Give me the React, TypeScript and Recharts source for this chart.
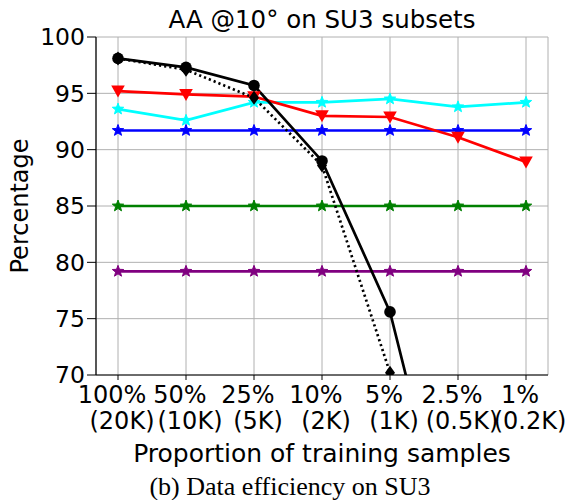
import React from 'react';
import { LineChart, Line, XAxis, YAxis, CartesianGrid } from 'recharts';

const categories = ['100%', '50%', '25%', '10%', '5%', '2.5%', '1%'];
const sampleCounts = ['(20K)', '(10K)', '(5K)', '(2K)', '(1K)', '(0.5K)', '(0.2K)'];
const solidBlack = [98.1, 97.3, 95.7, 89.0, 75.6, 51.5, 45.0];
const dottedBlack = [98.1, 97.1, 94.6, 88.6, 70.2, 45.0, 38.0];
const red = [95.2, 94.9, 94.7, 93.0, 92.9, 91.1, 88.9];
const cyan = [93.6, 92.6, 94.2, 94.2, 94.5, 93.8, 94.2];
const blue = [91.7, 91.7, 91.7, 91.7, 91.7, 91.7, 91.7];
const green = [85.0, 85.0, 85.0, 85.0, 85.0, 85.0, 85.0];
const purple = [79.2, 79.2, 79.2, 79.2, 79.2, 79.2, 79.2];
const yTicks = [70, 75, 80, 85, 90, 95, 100];

const data = categories.map((c, i) => ({
  name: c,
  solid: solidBlack[i],
  dotted: dottedBlack[i],
  red: red[i],
  cyan: cyan[i],
  blue: blue[i],
  green: green[i],
  purple: purple[i],
}));

const FONT = 'DejaVu Sans';

function starPath(cx: number, cy: number, R: number) {
  const r = R * 0.42;
  let d = '';
  for (let i = 0; i < 10; i++) {
    const rad = i % 2 === 0 ? R : r;
    const a = -Math.PI / 2 + (i * Math.PI) / 5;
    d += (i === 0 ? 'M' : 'L') + (cx + rad * Math.cos(a)).toFixed(2) + ',' + (cy + rad * Math.sin(a)).toFixed(2);
  }
  return d + 'Z';
}

const starDot = (color: string) => (props: any) => {
  const { cx, cy, index } = props;
  return <path key={index} d={starPath(cx, cy, 6)} fill={color} stroke={color} strokeWidth={1} />;
};

const triDownDot = (props: any) => {
  const { cx, cy, index } = props;
  return <path key={index} d={`M${cx - 6.8},${cy - 5.5}L${cx + 6.8},${cy - 5.5}L${cx},${cy + 6.5}Z`} fill="#ff0000" />;
};

const circleDot = (props: any) => {
  const { cx, cy, index } = props;
  return <circle key={index} cx={cx} cy={cy} r={5.8} fill="#000" />;
};

const diamondDot = (props: any) => {
  const { cx, cy, index } = props;
  return <path key={index} d={`M${cx},${cy - 7}L${cx + 5},${cy}L${cx},${cy + 7}L${cx - 5},${cy}Z`} fill="#000" />;
};

const XTick = (props: any) => {
  const { x, y, index } = props;
  return (
    <text x={x} y={y} textAnchor="middle" fontFamily={FONT} fontSize={24} fill="#000">
      <tspan x={x - 6} dy={23}>{categories[index]}</tspan>
      <tspan x={x + 4} dy={26}>{sampleCounts[index]}</tspan>
    </text>
  );
};

export default function App() {
  return (
    <div style={{ position: 'absolute', left: 0, top: 0, width: 570, height: 500, background: '#fff' }}>
      <LineChart width={570} height={500} data={data} margin={{ top: 37, right: 22, left: 36, bottom: 45 }}>
        <CartesianGrid stroke="#b0b0b0" strokeWidth={1} />
        <XAxis
          dataKey="name"
          height={80}
          padding={{ left: 22, right: 22 }}
          tick={<XTick />}
          tickSize={5}
          tickMargin={0}
          interval={0}
          axisLine={{ stroke: '#000', strokeWidth: 1.2 }}
          tickLine={{ stroke: '#000' }}
        />
        <XAxis xAxisId="top" dataKey="name" orientation="top" height={0} tick={false} tickLine={false} axisLine={{ stroke: '#000', strokeWidth: 1.2 }} />
        <YAxis
          domain={[70, 100]}
          ticks={yTicks}
          allowDataOverflow
          width={60}
          tickSize={9}
          tickMargin={2}
          tick={{ fontFamily: FONT, fontSize: 23.5, fill: '#000' }}
          axisLine={{ stroke: '#000', strokeWidth: 1.2 }}
          tickLine={{ stroke: '#000' }}
        />
        <YAxis yAxisId="right" orientation="right" domain={[70, 100]} width={0} tick={false} tickLine={false} axisLine={{ stroke: '#000', strokeWidth: 1.2 }} />
        <Line dataKey="purple" stroke="#800080" strokeWidth={2.7} dot={starDot('#800080')} isAnimationActive={false} />
        <Line dataKey="green" stroke="#008000" strokeWidth={2.7} dot={starDot('#008000')} isAnimationActive={false} />
        <Line dataKey="blue" stroke="#0000ff" strokeWidth={2.7} dot={starDot('#0000ff')} isAnimationActive={false} />
        <Line dataKey="cyan" stroke="#00ffff" strokeWidth={2.7} dot={starDot('#00ffff')} isAnimationActive={false} />
        <Line dataKey="red" stroke="#ff0000" strokeWidth={2.7} dot={triDownDot} isAnimationActive={false} />
        <Line dataKey="dotted" stroke="#000" strokeWidth={2.7} strokeDasharray="2.2 3" dot={diamondDot} isAnimationActive={false} />
        <Line dataKey="solid" stroke="#000" strokeWidth={2.7} dot={circleDot} isAnimationActive={false} />
      </LineChart>
      <svg width={570} height={500} style={{ position: 'absolute', left: 0, top: 0, pointerEvents: 'none' }}>
        <text x={322} y={28} textAnchor="middle" fontFamily={FONT} fontSize={24.5} fill="#000">
          AA @10° on SU3 subsets
        </text>
        <text x={28} y={206} textAnchor="middle" fontFamily={FONT} fontSize={24} fill="#000" transform="rotate(-90 28 206)">
          Percentage
        </text>
        <text x={322} y={462} textAnchor="middle" fontFamily={FONT} fontSize={25} fill="#000">
          Proportion of training samples
        </text>
        <text x={290} y={495} textAnchor="middle" fontFamily="Liberation Serif" fontSize={26} fill="#000">
          (b) Data efficiency on SU3
        </text>
      </svg>
    </div>
  );
}
